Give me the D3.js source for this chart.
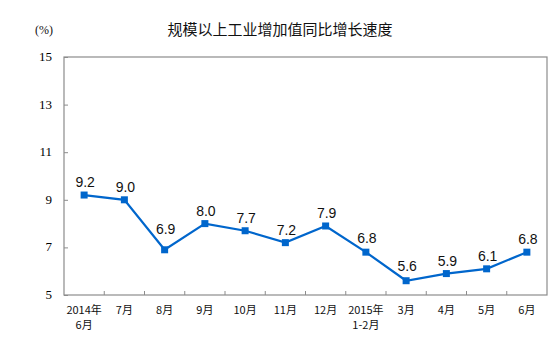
<!DOCTYPE html>
<html><head><meta charset="utf-8">
<script src="https://cdn.jsdelivr.net/npm/d3@7"></script>
<style>body{margin:0;background:#fff}svg{display:block}</style>
</head><body>
<svg id="c" width="554" height="339"></svg>
<script>
const categories = [["2014年","6月"],["7月"],["8月"],["9月"],["10月"],["11月"],["12月"],["2015年","1-2月"],["3月"],["4月"],["5月"],["6月"]];
const values = [9.2, 9.0, 6.9, 8.0, 7.7, 7.2, 7.9, 6.8, 5.6, 5.9, 6.1, 6.8];
const yTicks = [5, 7, 9, 11, 13, 15];
const title = "规模以上工业增加值同比增长速度";
const unit = "(%)";

const svg = d3.select("#c");
const m = {l: 64, r: 7, t: 57, b: 44};
const W = 554, H = 339;
const x = d3.scaleBand().domain(d3.range(categories.length)).range([m.l, W - m.r]);
const y = d3.scaleLinear().domain([5, 15]).range([H - m.b, m.t]);
const grey = "#8c8c8c";
const blue = "#0066cc";

// frame
svg.append("rect").attr("x", m.l).attr("y", m.t)
  .attr("width", W - m.r - m.l).attr("height", H - m.b - m.t)
  .attr("fill", "none").attr("stroke", grey).attr("stroke-width", 1.2);

// y axis
const ya = svg.append("g").attr("transform", `translate(${m.l},0)`)
  .call(d3.axisRight(y).tickValues(yTicks).tickSize(4).tickFormat(""));
ya.select(".domain").remove();
ya.selectAll("line").attr("stroke", grey);
svg.append("g").selectAll("text").data(yTicks).join("text")
  .attr("x", 52).attr("y", d => y(d) + 4).attr("text-anchor", "end")
  .attr("font-family", "Liberation Serif").attr("font-size", 13).attr("fill", "#000")
  .text(d => d);

// x axis ticks (between categories)
const bounds = d3.range(1, categories.length).map(i => x(i));
svg.append("g").selectAll("line").data(bounds).join("line")
  .attr("x1", d => d).attr("x2", d => d)
  .attr("y1", H - m.b).attr("y2", H - m.b - 4).attr("stroke", grey);

// x labels
const xl = svg.append("g").selectAll("text").data(categories).join("text")
  .attr("text-anchor", "middle")
  .attr("font-family", "Noto Sans CJK SC").attr("font-size", 11).attr("fill", "#111");
xl.each(function(d, i) {
  const t = d3.select(this);
  d.forEach((s, k) => {
    t.append("tspan").attr("x", x(i) + x.bandwidth() / 2).attr("y", 314 + k * 15).text(s);
  });
});

// line
const cx = i => x(i) + x.bandwidth() / 2;
svg.append("path").datum(values)
  .attr("d", d3.line().x((d, i) => cx(i)).y(d => y(d)))
  .attr("fill", "none").attr("stroke", blue).attr("stroke-width", 2.2);
svg.append("g").selectAll("rect").data(values).join("rect")
  .attr("x", (d, i) => cx(i) - 3.5).attr("y", d => y(d) - 3.5)
  .attr("width", 7).attr("height", 7).attr("fill", blue);

// value labels: lift label above the line where adjacent segments rise steeply
const step = x.bandwidth();
function lift(i) {
  let rise = 0;
  [i - 1, i + 1].forEach(j => {
    if (j >= 0 && j < values.length) {
      const dy = y(values[i]) - y(values[j]);
      rise = Math.max(rise, dy / step * 10);
    }
  });
  return Math.max(8, rise + 3);
}
svg.append("g").selectAll("text").data(values).join("text")
  .attr("x", (d, i) => cx(i) + 1).attr("y", (d, i) => y(d) - lift(i))
  .attr("text-anchor", "middle").attr("font-family", "Liberation Sans")
  .attr("font-size", 14).attr("fill", "#111").text(d => d.toFixed(1));

// title and unit
svg.append("text").attr("x", 280).attr("y", 35).attr("text-anchor", "middle")
  .attr("font-family", "Noto Sans CJK SC").attr("font-size", 15).attr("fill", "#111").text(title);
svg.append("text").attr("x", 44).attr("y", 34).attr("text-anchor", "middle")
  .attr("font-family", "Liberation Serif").attr("font-size", 12).attr("fill", "#111").text(unit);
</script>
</body></html>
